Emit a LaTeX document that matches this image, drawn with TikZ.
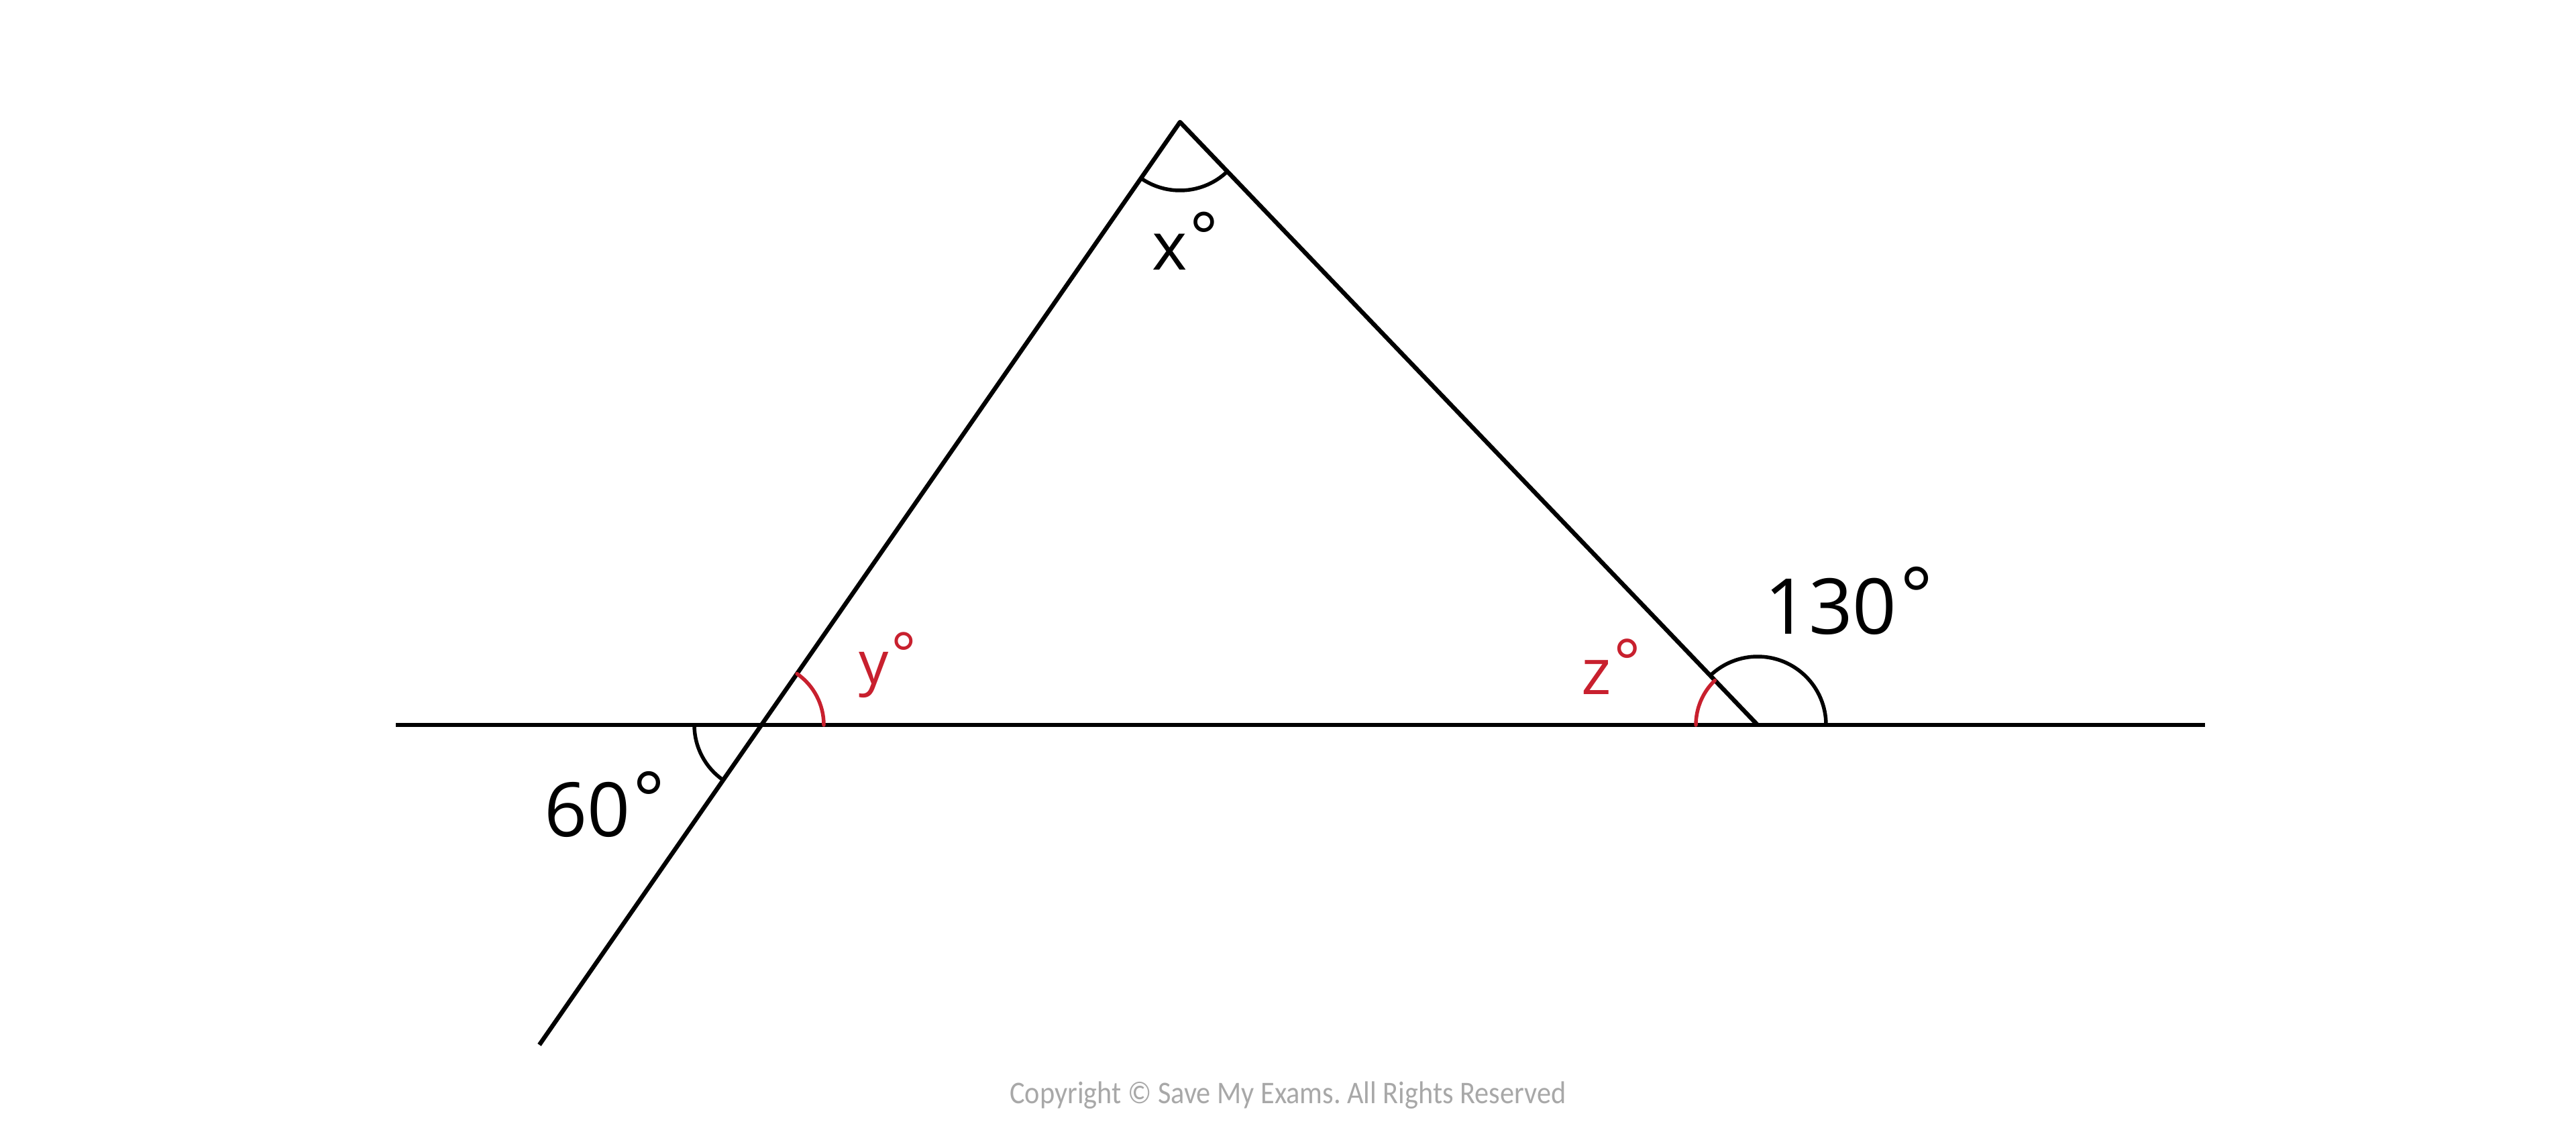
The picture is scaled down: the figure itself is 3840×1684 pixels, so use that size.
\documentclass[tikz,border=0pt]{standalone}
\usepackage{fontspec}
\setmainfont{Open Sans}
\newfontfamily\copyfont{Carlito}
\definecolor{smered}{RGB}{200,32,46}
\definecolor{copygray}{RGB}{168,168,168}
\newcommand\dgr{\hspace{0.04em}\raisebox{0.14em}{°}}
\begin{document}
\frenchspacing
\begin{tikzpicture}[x=1pt,y=1pt,
  ln/.style={line width=6.5pt},
  ang/.style={line width=5.5pt, line cap=round},
  lbl/.style={inner sep=0pt, anchor=base west},
]
\useasboundingbox (0,0) rectangle (3840,-1684);
\fill[white] (0,0) rectangle (3840,-1684);
\coordinate (A) at (1759,-182);
\coordinate (P) at (1135,-1081);
\coordinate (Q) at (2620,-1081);
\coordinate (B) at (804,-1558);
\coordinate (HL) at (590,-1081);
\coordinate (HR) at (3287,-1081);
\draw[ln] (HL) -- (HR);
\draw[ln, line join=round] (B) -- (A) -- (Q);
% angle arcs
\draw[ang] ([shift={(180:100)}]P) arc[start angle=180,end angle=235.2,radius=100];
\draw[ang,smered] ([shift={(0:93)}]P) arc[start angle=0,end angle=55.2,radius=93];
\draw[ang] ([shift={(235.2:102)}]A) arc[start angle=235.2,end angle=313.8,radius=102];
\draw[ang,smered] ([shift={(133.8:92)}]Q) arc[start angle=133.8,end angle=180,radius=92];
\draw[ang] ([shift={(0:102)}]Q) arc[start angle=0,end angle=133.8,radius=102];
% labels
\node[lbl, font=\fontsize{100}{110}\selectfont] (xl) at (1717,-402) {x\dgr};
\node[lbl, font=\fontsize{88}{100}\selectfont, text=smered] (yl) at (1280,-1019) {y\dgr};
\node[lbl, font=\fontsize{95}{105}\selectfont, text=smered] (zl) at (2357,-1035) {z\dgr};
\node[lbl, font=\fontsize{112}{120}\selectfont] (sixty) at (811,-1247) {60\dgr};
\node[lbl, font=\fontsize{115}{120}\selectfont] (onethirty) at (2630,-945) {130\dgr};
\node[font=\copyfont\fontsize{47}{50}\selectfont, text=copygray, anchor=base, inner sep=0pt] (cp) at (1920,-1645) {\scalebox{0.9}[1]{Copyright © Save My Exams. All Rights Reserved}};
\end{tikzpicture}
\end{document}
